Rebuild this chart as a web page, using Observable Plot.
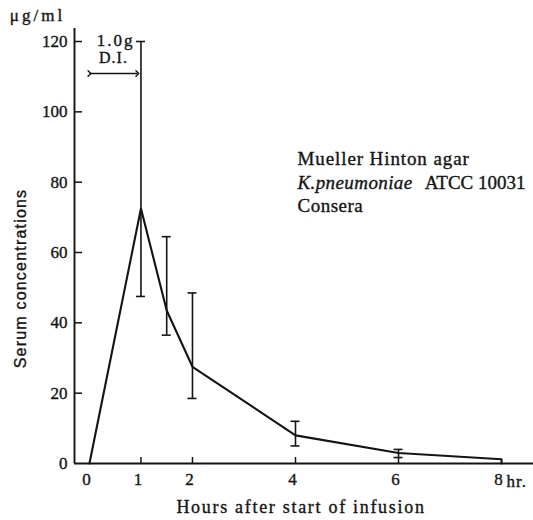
<!DOCTYPE html>
<html><head><meta charset="utf-8">
<script src="https://cdn.jsdelivr.net/npm/d3@7"></script>
<script src="https://cdn.jsdelivr.net/npm/@observablehq/plot@0.6"></script>
<style>body{margin:0;background:#fff}</style>
</head><body><div id="chart"></div>
<script>
// Data
const hours = [0, 1, 1.5, 2, 4, 6, 8, 8];
const conc = [0, 72.5, 43.5, 27.5, 8, 3, 1.2, 0];
const errHours = [1, 1.5, 2, 4, 6];
const errLow = [47.5, 36.5, 18.5, 5, 1.7];
const errHigh = [120, 64.5, 48.5, 12, 4];
const xTickLabels = [0, 1, 2, 4, 6, 8];
const xTickMarks = [1, 2, 4, 6];
const yTickLabels = [0, 20, 40, 60, 80, 100, 120];
const yTickMarks = [20, 40, 60, 80, 100, 120];
const infusion = [{start: 0, end: 0.93, level: 110.9}];
const doseLabel = "1.0g";
const doseSub = "D.I.";
const unitLabel = "μg/ml";
const yTitle = "Serum concentrations";
const xTitle = "Hours after start of infusion";
const hrLabel = "hr.";
const legend1 = "Mueller Hinton agar";
const legend2a = "K.pneumoniae";
const legend2b = "ATCC 10031";
const legend3 = "Consera";

const xDomain = [-0.29, 8.62];
const yDomain = [0, 123.7];

const points = hours.map((h, i) => ({h, c: conc[i]}));
const errs = errHours.map((h, i) => ({h, lo: errLow[i], hi: errHigh[i]}));

const serif = "'Liberation Serif', 'DejaVu Serif', serif";
const ink = "#141414";
const lbl = {frameAnchor: "top-left", lineAnchor: "middle", fill: ink};

const chart = Plot.plot({
  width: 533, height: 520,
  marginLeft: 74, marginRight: 0, marginTop: 28, marginBottom: 57,
  x: {domain: xDomain, axis: null},
  y: {domain: yDomain, axis: null},
  style: {fontFamily: serif, fontSize: "17px", background: "#fff", color: ink},
  marks: [
    // axis lines
    Plot.ruleX([xDomain[0]], {stroke: ink, strokeWidth: 1.9}),
    Plot.ruleY([0], {stroke: ink, strokeWidth: 1.9}),
    // inward ticks
    Plot.ruleY(yTickMarks, {y: d => d, x1: xDomain[0], x2: xDomain[0], insetRight: -8, stroke: ink, strokeWidth: 1.5}),
    Plot.ruleX(xTickMarks, {x: d => d, y1: 0, y2: 0, insetTop: -6, stroke: ink, strokeWidth: 1.5}),
    // tick labels
    Plot.axisY({ticks: yTickLabels, tickSize: 0, tickPadding: 7, fontSize: 17}),
    Plot.axisX({ticks: xTickLabels, tickSize: 0, tickPadding: 9, dx: -3, fontSize: 17, tickFormat: d => String(d)}),
    Plot.text([hrLabel], {x: 8, y: 0, dx: 5, dy: 18, textAnchor: "start", lineAnchor: "middle", fontSize: 17, fill: ink}),
    // error bars
    Plot.ruleX(errs, {x: "h", y1: "lo", y2: "hi", stroke: ink, strokeWidth: 1.6}),
    Plot.ruleY(errs, {y: "lo", x1: "h", x2: "h", insetLeft: -4.5, insetRight: -4.5, stroke: ink, strokeWidth: 1.6}),
    Plot.ruleY(errs, {y: "hi", x1: "h", x2: "h", insetLeft: -4.5, insetRight: -4.5, stroke: ink, strokeWidth: 1.6}),
    // concentration curve
    Plot.line(points, {x: "h", y: "c", stroke: ink, strokeWidth: 2.1, curve: "linear"}),
    // infusion arrow
    Plot.link(infusion, {x1: "start", x2: "end", y1: "level", y2: "level", stroke: ink, strokeWidth: 1.4, markerStart: "arrow", markerEnd: "arrow"}),
    Plot.text([doseLabel], {...lbl, dx: 41, dy: 12, textAnchor: "middle", fontSize: 17}),
    Plot.text([doseSub], {...lbl, dx: 39, dy: 29, textAnchor: "middle", fontSize: 16}),
    // unit label
    Plot.text([unitLabel], {...lbl, dx: -37, dy: -13, textAnchor: "middle", fontSize: 17}),
    // legend
    Plot.text([legend1], {...lbl, dx: 223, dy: 130.5, textAnchor: "start", fontSize: 19}),
    Plot.text([legend2a], {...lbl, dx: 223, dy: 154, textAnchor: "start", fontSize: 19, fontStyle: "italic"}),
    Plot.text([legend2b], {...lbl, dx: 451, dy: 154, textAnchor: "end", fontSize: 19}),
    Plot.text([legend3], {...lbl, dx: 223, dy: 177, textAnchor: "start", fontSize: 19}),
    // titles
    Plot.text([yTitle], {...lbl, dx: -54, dy: 250, textAnchor: "middle", rotate: -90, fontFamily: "'Liberation Sans', sans-serif", fontSize: 16}),
    Plot.text([xTitle], {frameAnchor: "bottom", lineAnchor: "middle", dx: -3, dy: 44, fontSize: 18, fill: ink})
  ]
});

// letter spacing of the typeset labels, and a slightly heavier print look
const spacing = new Map([
  [legend1, 0.9], [legend2a, 0.4], [legend2b, 0], [legend3, 0.5],
  [xTitle, 1.7], [yTitle, 1.2], [unitLabel, 3], [doseLabel, 2], [doseSub, 1], [hrLabel, 1]
]);
d3.select(chart).selectAll("text").each(function () {
  const t = this.textContent;
  if (spacing.has(t)) this.setAttribute("letter-spacing", spacing.get(t));
  this.setAttribute("stroke", ink);
  this.setAttribute("stroke-width", 0.35);
});
document.getElementById("chart").appendChild(chart);
</script>
</body></html>
